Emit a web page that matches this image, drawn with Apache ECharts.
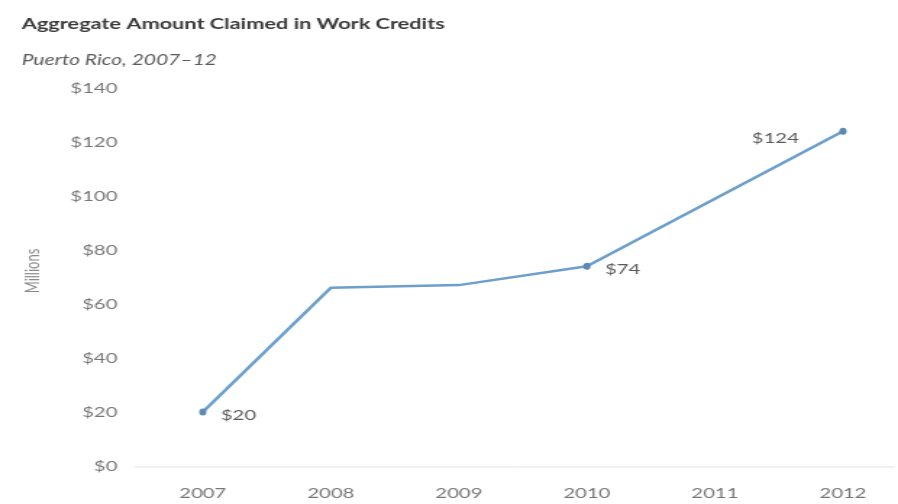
<!DOCTYPE html>
<html>
<head>
<meta charset="utf-8">
<style>
  html, body { margin: 0; padding: 0; background: #ffffff; overflow: hidden; }
  /* The chart is laid out on a narrower canvas and widened to 898px,
     which gives the wide-set lettering of the published figure. */
  #chart {
    width: 620px; height: 504px;
    transform: scaleX(1.4484);
    transform-origin: 0 0;
  }
</style>
<script src="https://cdn.jsdelivr.net/npm/echarts@6/dist/echarts.min.js"></script>
</head>
<body>
<div id="chart"></div>
<script>
// Work credits claimed in Puerto Rico, millions of dollars
const years = ['2007', '2008', '2009', '2010', '2011', '2012'];
const claimed = [20, 66, 67, 74, 99, 124];
// Years whose points are marked and labelled, with the label side
const labelledYears = { '2007': 'right', '2010': 'right', '2012': 'left' };
const yTicks = { min: 0, max: 140, step: 20 };

const FONT = 'Lato, "Open Sans", sans-serif';
const LINE = '#6c9fcb';
const MARK = '#5d88b0';

const labelLayout = {
  right: { distance: 10, offset: [0, 3] },
  left: { distance: 28, offset: [0, 7] }
};

const seriesData = claimed.map((v, i) => {
  const side = labelledYears[years[i]];
  if (!side) return { value: v, symbolSize: 0 };
  return {
    value: v,
    symbolSize: [5, 7],
    label: {
      show: true,
      position: side,
      distance: labelLayout[side].distance,
      offset: labelLayout[side].offset,
      formatter: '$' + v
    }
  };
});

const chart = echarts.init(document.getElementById('chart'));
chart.setOption({
  animation: false,
  backgroundColor: '#ffffff',
  title: [
    {
      text: 'Aggregate Amount Claimed in Work Credits',
      left: 10, top: 12,
      textStyle: { fontFamily: FONT, fontSize: 15, fontWeight: 'bold', color: '#3a3a3a' }
    },
    {
      text: 'Puerto Rico, 2007–12',
      left: 10, top: 48,
      textStyle: { fontFamily: FONT, fontSize: 14.5, fontStyle: 'italic', fontWeight: 'normal', color: '#5a5a5a' }
    }
  ],
  grid: { left: 140, right: 38, top: 88, bottom: 38 },
  xAxis: {
    type: 'category',
    data: years,
    boundaryGap: false,
    axisLine: { show: false },
    axisTick: { show: false },
    axisLabel: { fontFamily: FONT, fontSize: 14, color: '#777777', margin: 20 }
  },
  yAxis: {
    type: 'value',
    min: yTicks.min, max: yTicks.max, interval: yTicks.step,
    name: 'Millions',
    nameLocation: 'middle',
    nameGap: 111,
    nameRotate: 90,
    nameTextStyle: { fontFamily: FONT, fontSize: 13, color: '#8a8a8a', padding: [0, 0, 0, 12] },
    splitLine: { show: false },
    axisLine: { show: false },
    axisTick: { show: false },
    axisLabel: {
      fontFamily: FONT, fontSize: 14, color: '#777777', margin: 59,
      formatter: v => '$' + v
    }
  },
  graphic: [
    {
      type: 'line',
      shape: { x1: 93, y1: 467, x2: 618, y2: 467 },
      style: { stroke: '#e4e4e4', lineWidth: 1 },
      silent: true
    }
  ],
  series: [{
    type: 'line',
    data: seriesData,
    symbol: 'circle',
    showAllSymbol: true,
    lineStyle: { color: LINE, width: 2.5 },
    itemStyle: { color: MARK },
    label: { fontFamily: FONT, fontSize: 14, color: '#5a5a5a' },
    z: 3
  }]
});
</script>
</body>
</html>
